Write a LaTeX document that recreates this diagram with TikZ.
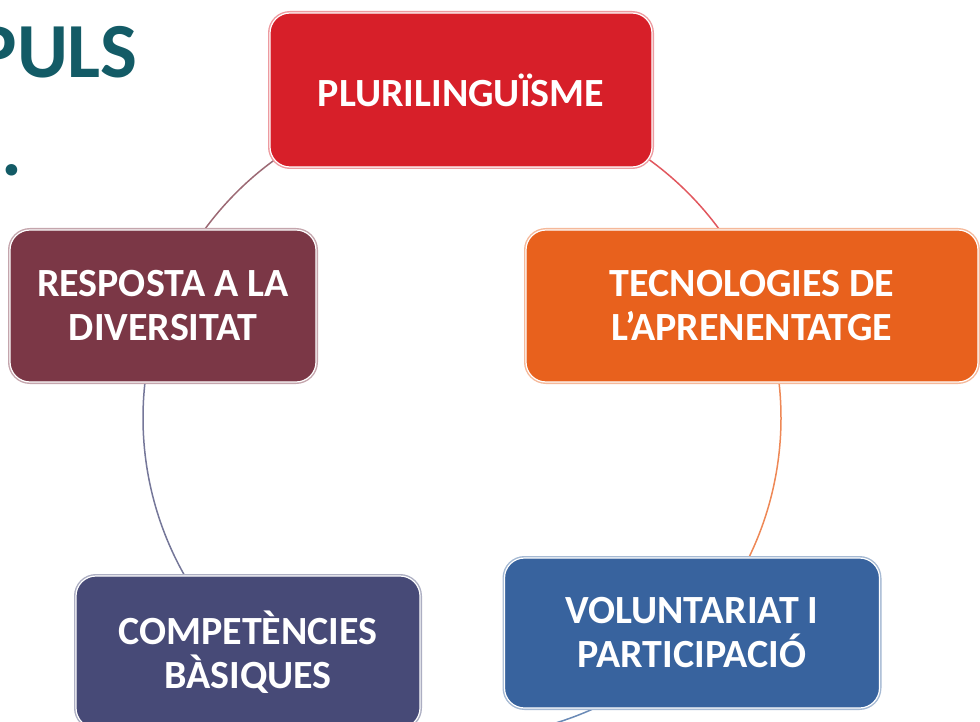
\documentclass[tikz,border=0pt]{standalone}
\usepackage{fontspec}
\setmainfont{Carlito}
\usepackage{tikz}
\usepackage{xcolor}
\definecolor{plured}{HTML}{D71F29}
\definecolor{tecorange}{HTML}{E8611D}
\definecolor{volblue}{HTML}{38639E}
\definecolor{compnavy}{HTML}{474A77}
\definecolor{respmaroon}{HTML}{7B3746}
\definecolor{pulsteal}{HTML}{135B66}

\begin{document}
\begin{tikzpicture}[x=1pt,y=-1pt,
  box/.style={fill=#1, draw=white, line width=1.2pt,
    preaction={draw=#1!45, line width=4pt},
    rounded corners=20pt, text=white, align=center, inner sep=0pt,
    font=\fontsize{40}{44}\selectfont\bfseries},
  link/.style={draw=#1!75, line width=1.5pt},
  title/.style={text=pulsteal, inner sep=0pt,
    font=\fontsize{78}{80}\selectfont\bfseries}]
  \useasboundingbox (0,0) rectangle (980,722);
  \clip (0,0) rectangle (980,722);

  \node[title, anchor=base east] (puls) at (138,78) {PULS};
  \node[title, anchor=base] (dot) at (12,176) {.};

  % cycle arcs, boxes go on top
  \coordinate (circ) at (462,418);
  \draw[link=plured]     (circ) ++(-90:319) arc[start angle=-90, end angle=-21, radius=319];
  \draw[link=tecorange]  (circ) ++(-21:319) arc[start angle=-21, end angle=43, radius=319];
  \draw[link=volblue]    (circ) ++(43:319) arc[start angle=43, end angle=132, radius=319];
  \draw[link=compnavy]   (circ) ++(132:319) arc[start angle=132, end angle=200, radius=319];
  \draw[link=respmaroon] (circ) ++(200:319) arc[start angle=200, end angle=270, radius=319];

  \node[box=plured, minimum width=382pt, minimum height=154pt] (plur) at (461,90) {PLURILINGUÏSME};
  \node[box=tecorange, minimum width=452pt, minimum height=152pt] (tecn) at (752,306) {TECNOLOGIES DE\\L’APRENENTATGE};
  \node[box=volblue, minimum width=375pt, minimum height=150pt] (volu) at (692,633) {VOLUNTARIAT I\\PARTICIPACIÓ};
  \node[box=compnavy, minimum width=344pt, minimum height=152pt] (comp) at (248,652) {COMPETÈNCIES\\BÀSIQUES};
  \node[box=respmaroon, minimum width=306pt, minimum height=152pt] (resp) at (163,306) {RESPOSTA A LA\\DIVERSITAT};
\end{tikzpicture}
\end{document}
